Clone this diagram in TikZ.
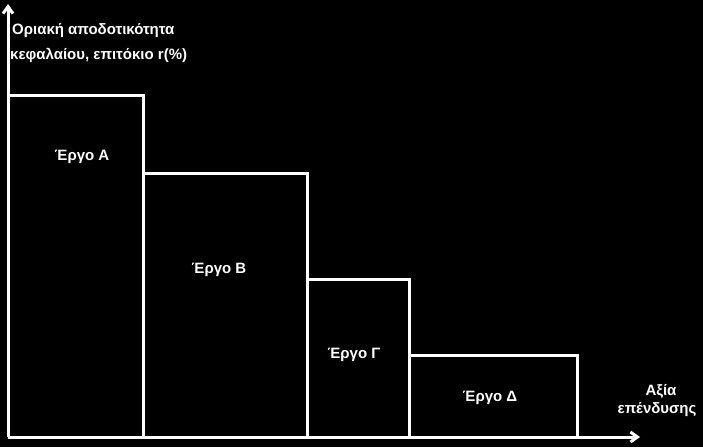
\documentclass[tikz,border=0pt]{standalone}
\usepackage{fontspec}
\setmainfont{Liberation Sans}
\usetikzlibrary{arrows.meta}
\begin{document}
\begin{tikzpicture}[x=1pt,y=-1pt,
  bar/.style={draw=white,line width=3pt},
  lbl/.style={text=white,font=\bfseries\fontsize{15}{17}\selectfont,inner sep=0pt},
  ax/.style={draw=white,line width=3pt,-{Straight Barb[length=7pt,width=10pt]}}]
\fill[black] (0,0) rectangle (703,447);
\useasboundingbox (0,0) rectangle (703,447);
\coordinate (o) at (8,437);
\coordinate (yt) at (8,4);
\coordinate (xr) at (640,437);
\draw[bar] (8,437) |- (143,95) -- (143,437);
\draw[bar] (143,173) -- (307,173) -- (307,437);
\draw[bar] (307,279) -- (409,279) -- (409,437);
\draw[bar] (409,355) -- (577,355) -- (577,437);
\draw[ax] (o) -- (yt);
\draw[ax] (o) -- (xr);
\node[lbl] (a) at (82,157) {Έργο A};
\node[lbl] (b) at (219,270) {Έργο B};
\node[lbl] (c) at (354,355) {Έργο Γ};
\node[lbl] (d) at (490,398) {Έργο Δ};
\node[lbl,anchor=west] (t1) at (12,31) {Οριακή αποδοτικότητα};
\node[lbl,anchor=west] (t2) at (10,55) {κεφαλαίου, επιτόκιο r(\%)};
\node[lbl] (x1) at (661,391) {Αξία};
\node[lbl] (x2) at (657,410) {επένδυσης};
\end{tikzpicture}
\end{document}
